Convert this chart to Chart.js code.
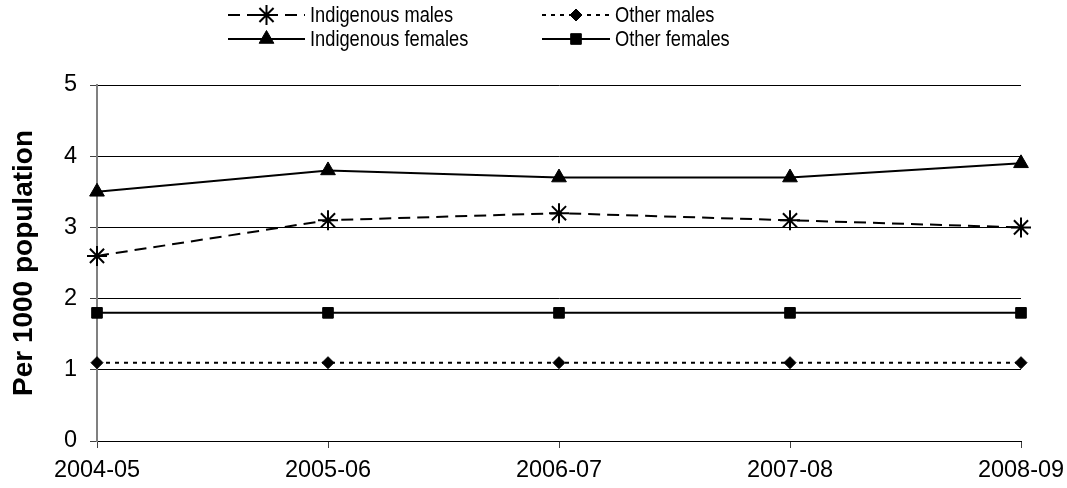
<!DOCTYPE html>
<html>
<head>
<meta charset="utf-8">
<script src="https://cdn.jsdelivr.net/npm/chart.js@4"></script>
<style>
  html, body { margin: 0; padding: 0; background: #fff; }
  #wrap { width: 1067px; height: 488px; }
</style>
</head>
<body>
<div id="wrap"><canvas id="chart" width="1067" height="488"></canvas></div>
<script>
const years = ['2004-05', '2005-06', '2006-07', '2007-08', '2008-09'];
const yTicks = [0, 1, 2, 3, 4, 5];
const indigenousMales = [2.6, 3.1, 3.2, 3.1, 3.0];
const indigenousFemales = [3.5, 3.8, 3.7, 3.7, 3.9];
const otherMales = [1.1, 1.1, 1.1, 1.1, 1.1];
const otherFemales = [1.8, 1.8, 1.8, 1.8, 1.8];
const yTitle = 'Per 1000 population';

const FONT = 'Liberation Sans, Arial, sans-serif';

// legend slots: [sample start, sample end, row y]
const legendSlots = [
    [228, 305, 15],
    [228, 305, 39],
    [542, 610, 15],
    [542, 610, 39]
];

const legendPlugin = {
    id: 'sampleLegend',
    afterDraw(chart) {
        const ctx = chart.ctx;
        chart.data.datasets.forEach((ds, i) => {
            const [x0, x1, y] = legendSlots[i];
            ctx.save();
            ctx.strokeStyle = '#000';
            ctx.lineWidth = ds.borderWidth;
            ctx.setLineDash(ds.borderDash || []);
            ctx.beginPath();
            ctx.moveTo(x0, y);
            ctx.lineTo(x1, y);
            ctx.stroke();
            ctx.setLineDash([]);
            ctx.fillStyle = '#000';
            ctx.strokeStyle = '#000';
            ctx.lineWidth = ds.pointBorderWidth;
            Chart.helpers.drawPoint(ctx, {
                pointStyle: ds.pointStyle,
                radius: ds.pointRadius,
                rotation: 0,
                borderWidth: ds.pointBorderWidth
            }, (x0 + x1) / 2, y);
            // condensed text like the original
            ctx.translate(x1 + 5, y + 1);
            ctx.scale(0.83, 1);
            ctx.fillStyle = '#000';
            ctx.font = '22px ' + FONT;
            ctx.textBaseline = 'middle';
            ctx.textAlign = 'left';
            ctx.fillText(ds.label, 0, 0);
            ctx.restore();
        });
    }
};

function lineSet(label, data, dash, style, radius) {
    return {
        label: label,
        data: data,
        borderColor: '#000',
        backgroundColor: '#000',
        borderWidth: 2,
        borderDash: dash,
        pointStyle: style,
        pointRadius: radius,
        pointHoverRadius: radius,
        pointBorderWidth: style === 'star' ? 2 : 1,
        pointBackgroundColor: '#000',
        pointBorderColor: '#000',
        tension: 0,
        fill: false
    };
}

new Chart(document.getElementById('chart'), {
    type: 'line',
    data: {
        labels: years,
        datasets: [
            lineSet('Indigenous males', indigenousMales, [12, 7], 'star', 10),
            lineSet('Indigenous females', indigenousFemales, [], 'triangle', 8.5),
            lineSet('Other males', otherMales, [4, 5], 'rectRot', 6),
            lineSet('Other females', otherFemales, [], 'rect', 7.5)
        ]
    },
    options: {
        responsive: false,
        animation: false,
        events: [],
        layout: { padding: { top: 85, right: 46, left: 0, bottom: 0 } },
        plugins: {
            legend: { display: false },
            tooltip: { enabled: false }
        },
        scales: {
            x: {
                offset: false,
                grid: {
                    drawOnChartArea: false,
                    drawTicks: true,
                    tickLength: 7,
                    tickColor: '#404040'
                },
                border: { color: '#000', width: 1 },
                ticks: {
                    color: '#000',
                    font: { family: FONT, size: 23.5 },
                    padding: 8,
                    maxRotation: 0,
                    autoSkip: false
                },
                afterFit(scale) {
                    scale.height = 47;
                    scale.paddingLeft = 0;
                    scale.paddingRight = 0;
                }
            },
            y: {
                min: 0,
                max: 5,
                afterBuildTicks(scale) { scale.ticks = yTicks.map(v => ({ value: v })); },
                grid: {
                    color: '#000',
                    lineWidth: 1,
                    drawTicks: true,
                    tickLength: 7,
                    tickColor: '#404040'
                },
                border: { color: '#808080', width: 2 },
                ticks: {
                    color: '#000',
                    font: { family: FONT, size: 23.5 },
                    padding: 13
                },
                title: {
                    display: true,
                    text: yTitle,
                    color: '#000',
                    font: { family: FONT, size: 28, weight: 'bold' },
                    padding: { top: 7, bottom: 0 }
                },
                afterFit(scale) { scale.width = 97; }
            }
        }
    },
    plugins: [legendPlugin]
});
</script>
</body>
</html>
